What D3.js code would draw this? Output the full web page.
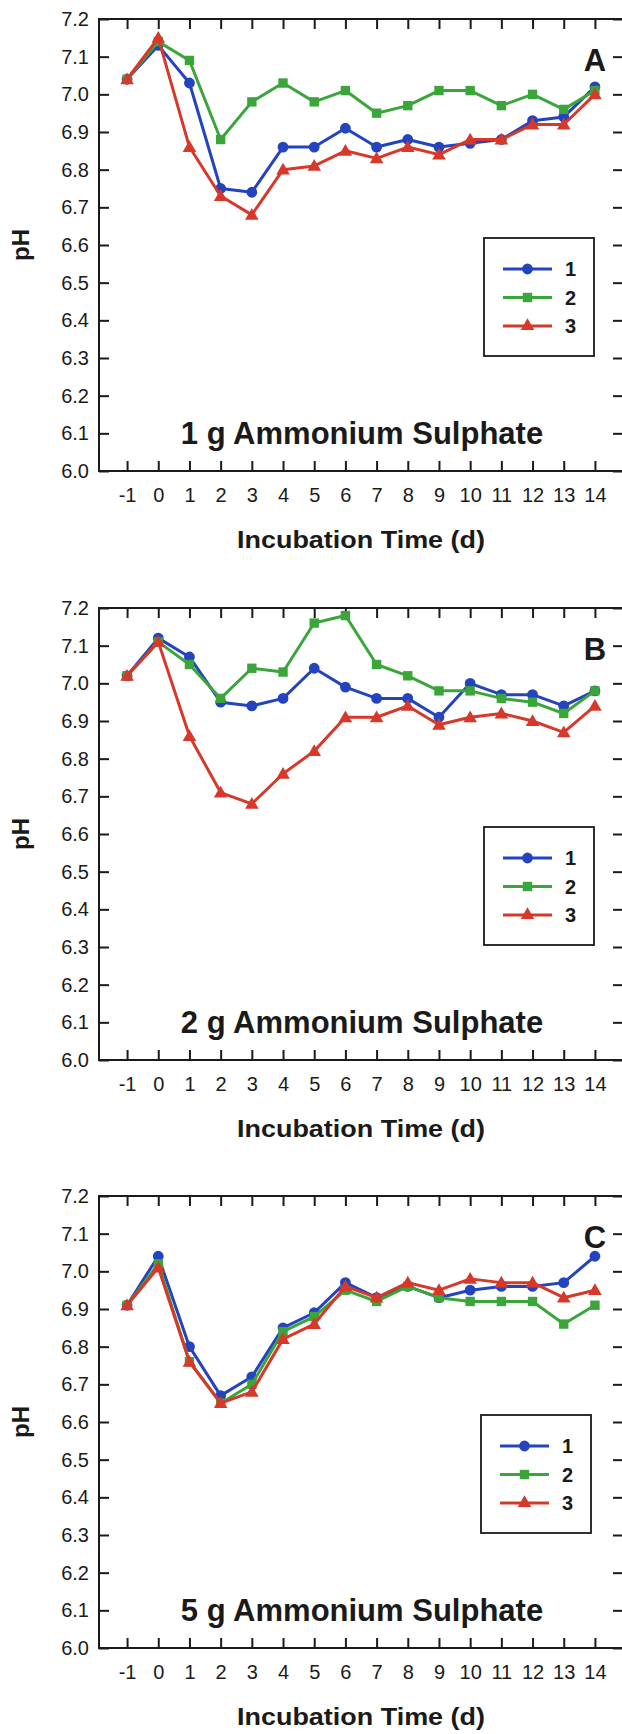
<!DOCTYPE html>
<html>
<head>
<meta charset="utf-8">
<script src="https://cdn.jsdelivr.net/npm/d3@7"></script>
<style>
  html, body { margin: 0; padding: 0; background: #fff; }
  svg { display: block; }
  text { font-family: "Liberation Sans", Arial, Helvetica, sans-serif; fill: #1a1a1a; }
</style>
</head>
<body>
<script>
// ---------------- DATA ----------------
const days = [-1, 0, 1, 2, 3, 4, 5, 6, 7, 8, 9, 10, 11, 12, 13, 14];
const yTicks = [6.0, 6.1, 6.2, 6.3, 6.4, 6.5, 6.6, 6.7, 6.8, 6.9, 7.0, 7.1, 7.2];
const seriesNames = ["1", "2", "3"];
const panelLetters = ["A", "B", "C"];
const panelTitles = ["1 g Ammonium Sulphate", "2 g Ammonium Sulphate", "5 g Ammonium Sulphate"];
const xLabel = "Incubation Time (d)";
const yLabel = "pH";

// Panel A (1 g)
const a1 = [7.04, 7.13, 7.03, 6.75, 6.74, 6.86, 6.86, 6.91, 6.86, 6.88, 6.86, 6.87, 6.88, 6.93, 6.94, 7.02];
const a2 = [7.04, 7.14, 7.09, 6.88, 6.98, 7.03, 6.98, 7.01, 6.95, 6.97, 7.01, 7.01, 6.97, 7.00, 6.96, 7.01];
const a3 = [7.04, 7.15, 6.86, 6.73, 6.68, 6.80, 6.81, 6.85, 6.83, 6.86, 6.84, 6.88, 6.88, 6.92, 6.92, 7.00];
// Panel B (2 g)
const b1 = [7.02, 7.12, 7.07, 6.95, 6.94, 6.96, 7.04, 6.99, 6.96, 6.96, 6.91, 7.00, 6.97, 6.97, 6.94, 6.98];
const b2 = [7.02, 7.11, 7.05, 6.96, 7.04, 7.03, 7.16, 7.18, 7.05, 7.02, 6.98, 6.98, 6.96, 6.95, 6.92, 6.98];
const b3 = [7.02, 7.11, 6.86, 6.71, 6.68, 6.76, 6.82, 6.91, 6.91, 6.94, 6.89, 6.91, 6.92, 6.90, 6.87, 6.94];
// Panel C (5 g)
const c1 = [6.91, 7.04, 6.80, 6.67, 6.72, 6.85, 6.89, 6.97, 6.93, 6.96, 6.93, 6.95, 6.96, 6.96, 6.97, 7.04];
const c2 = [6.91, 7.02, 6.76, 6.65, 6.70, 6.84, 6.88, 6.95, 6.92, 6.96, 6.93, 6.92, 6.92, 6.92, 6.86, 6.91];
const c3 = [6.91, 7.01, 6.76, 6.65, 6.68, 6.82, 6.86, 6.96, 6.93, 6.97, 6.95, 6.98, 6.97, 6.97, 6.93, 6.95];

const panelSeries = [[a1, a2, a3], [b1, b2, b3], [c1, c2, c3]];

// ---------------- STYLE / LAYOUT ----------------
const W = 622, H = 1734;
const colors = ["#2443bf", "#3aa63a", "#d6382a"];
const symbols = [d3.symbolCircle, d3.symbolSquare, d3.symbolTriangle];
const symbolSizes = [92, 88, 80];
const panelTops = [19, 608, 1196];
const panelHeight = 452;
const legendOffsetX = [0, 0, -3];

const svg = d3.select("body").append("svg")
  .attr("width", W).attr("height", H);

const x = d3.scaleLinear().domain([-1.9, 14.9]).range([99, 623]);

panelSeries.forEach((series, pi) => {
  const top = panelTops[pi];
  const bottom = top + panelHeight;
  const y = d3.scaleLinear().domain([6.0, 7.2]).range([bottom, top]);
  const g = svg.append("g");

  // frame
  g.append("rect")
    .attr("x", x.range()[0]).attr("y", top)
    .attr("width", x.range()[1] - x.range()[0]).attr("height", bottom - top)
    .attr("fill", "none").attr("stroke", "#1a1a1a").attr("stroke-width", 2);

  // axes
  const axL = g.append("g").attr("transform", `translate(${x.range()[0]},0)`)
    .call(d3.axisLeft(y).tickValues(yTicks).tickFormat(d3.format(".1f"))
      .tickSize(-10).tickPadding(10));
  const axR = g.append("g").attr("transform", `translate(${x.range()[1]},0)`)
    .call(d3.axisRight(y).tickValues(yTicks).tickFormat("").tickSize(-10));
  const axB = g.append("g").attr("transform", `translate(0,${bottom})`)
    .call(d3.axisBottom(x).tickValues(days).tickFormat(d3.format("d"))
      .tickSize(-10).tickPadding(17));
  const axT = g.append("g").attr("transform", `translate(0,${top})`)
    .call(d3.axisTop(x).tickValues(days).tickFormat("").tickSize(-10));
  [axL, axR, axB, axT].forEach(a => {
    a.select(".domain").remove();
    a.selectAll(".tick line").attr("stroke", "#1a1a1a").attr("stroke-width", 2);
    a.selectAll(".tick text").attr("font-size", 20).attr("fill", "#1a1a1a");
  });
  axB.selectAll(".tick text").text(d => d < 0 ? "-" + Math.abs(d) : d);

  // series
  series.forEach((vals, si) => {
    const pts = days.map((d, i) => [d, vals[i]]);
    g.append("path")
      .datum(pts)
      .attr("fill", "none")
      .attr("stroke", colors[si])
      .attr("stroke-width", 3)
      .attr("stroke-linejoin", "round")
      .attr("d", d3.line().x(d => x(d[0])).y(d => y(d[1])));
    g.selectAll(null).data(pts).enter().append("path")
      .attr("transform", d => `translate(${x(d[0])},${y(d[1]) + (si === 2 ? 1 : 0)})`)
      .attr("d", d3.symbol().type(symbols[si]).size(symbolSizes[si]))
      .attr("fill", colors[si]);
  });

  // panel letter
  g.append("text")
    .attr("x", 595).attr("y", top + 52)
    .attr("text-anchor", "middle")
    .attr("font-size", 31).attr("font-weight", "bold")
    .text(panelLetters[pi]);

  // panel title
  g.append("text")
    .attr("x", 362).attr("y", bottom - 27)
    .attr("text-anchor", "middle")
    .attr("font-size", 31).attr("font-weight", "bold")
    .text(panelTitles[pi]);

  // x axis label
  g.append("text")
    .attr("x", 361).attr("y", bottom + 77)
    .attr("text-anchor", "middle")
    .attr("font-size", 24).attr("font-weight", "bold")
    .attr("textLength", 248).attr("lengthAdjust", "spacingAndGlyphs")
    .text(xLabel);

  // y axis label
  g.append("text")
    .attr("transform", `translate(29,${(top + bottom) / 2}) rotate(-90)`)
    .attr("text-anchor", "middle")
    .attr("font-size", 24).attr("font-weight", "bold")
    .text(yLabel);

  // legend
  const lx = 484 + legendOffsetX[pi];
  const ly = top + 219;
  const lg = g.append("g");
  lg.append("rect")
    .attr("x", lx).attr("y", ly).attr("width", 110).attr("height", 118)
    .attr("fill", "#fff").attr("stroke", "#1a1a1a").attr("stroke-width", 1.8);
  seriesNames.forEach((name, si) => {
    const ry = ly + 31 + si * 28.5;
    lg.append("line")
      .attr("x1", lx + 19).attr("x2", lx + 68)
      .attr("y1", ry).attr("y2", ry)
      .attr("stroke", colors[si]).attr("stroke-width", 2.8);
    lg.append("path")
      .attr("transform", `translate(${lx + 43.5},${ry})`)
      .attr("d", d3.symbol().type(symbols[si]).size(symbolSizes[si]))
      .attr("fill", colors[si]);
    lg.append("text")
      .attr("x", lx + 81).attr("y", ry)
      .attr("dy", "0.36em")
      .attr("font-size", 20).attr("font-weight", "bold")
      .text(name);
  });
});
</script>
</body>
</html>
